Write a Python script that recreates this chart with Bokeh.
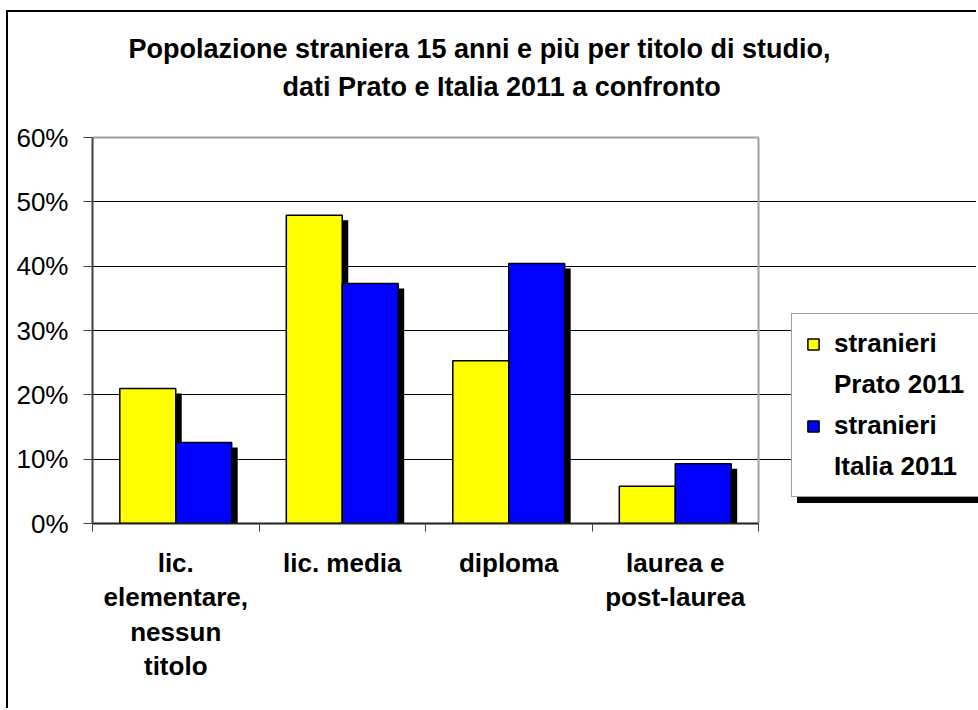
from bokeh.plotting import figure
from bokeh.models import (FixedTicker, PrintfTickFormatter, Legend, LegendItem,
                          Title, Range1d, Grid, LinearAxis)
from bokeh.embed import file_html
from bokeh.resources import INLINE

# ---- data ----
categories = ["lic.\nelementare,\nnessun\ntitolo", "lic. media", "diploma", "laurea e\npost-laurea"]
prato_2011 = [21.0, 47.9, 25.3, 5.8]
italia_2011 = [12.6, 37.3, 40.4, 9.3]
series_names = [["stranieri", "Prato 2011"], ["stranieri", "Italia 2011"]]
y_ticks = [0, 10, 20, 30, 40, 50, 60]
title_lines = ["Popolazione straniera 15 anni e più per titolo di studio,",
               "dati Prato e Italia 2011 a confronto"]

FONT = "Liberation Sans"
n = len(categories)
centers = [i + 0.5 for i in range(n)]
bw = 0.336
x_prato = [c - bw / 2 for c in centers]
x_italia = [c + bw / 2 for c in centers]
sh_dx = 0.036
sh_dy = 0.78

# the frame extends to the right edge (legend area); the plot area itself is x in [0, n]
FRAME_W = 886
PLOT_W = 666
x_end = n * FRAME_W / PLOT_W

p = figure(width=970, height=698, output_backend="svg", toolbar_location=None,
           x_range=Range1d(0, x_end), y_range=Range1d(0, y_ticks[-1]),
           min_border_left=84, min_border_right=0, min_border_top=125,
           min_border_bottom=187, title=None,
           styles={"margin-left": "6px", "margin-top": "10px",
                   "border-left": "2px solid black", "border-top": "2px solid black"})
p.background_fill_color = "white"
p.border_fill_color = "white"
p.outline_line_color = None

# shadows
p.vbar(x=[x + sh_dx for x in x_prato], top=[v - sh_dy for v in prato_2011], width=bw,
       fill_color="black", line_color=None)
p.vbar(x=[x + sh_dx for x in x_italia], top=[v - sh_dy for v in italia_2011], width=bw,
       fill_color="black", line_color=None)
r1 = p.vbar(x=x_prato, top=prato_2011, width=bw, fill_color="#ffff00",
            line_color="black", line_width=1.5)
r2 = p.vbar(x=x_italia, top=italia_2011, width=bw, fill_color="#0000ff",
            line_color="black", line_width=1.5)
r_blank = p.vbar(x=[], top=[], width=bw, fill_alpha=0, line_alpha=0)

# grid lines limited to the plot area
p.xgrid.visible = False
p.ygrid.ticker = FixedTicker(ticks=y_ticks[1:-1])
p.ygrid.grid_line_color = "black"
p.ygrid.grid_line_width = 1
p.ygrid.bounds = (0, n)
# plot-area border on the right, grey
p.add_layout(Grid(dimension=0, ticker=FixedTicker(ticks=[n]), bounds=(0, y_ticks[-1]),
                  grid_line_color="#a0a0a0", grid_line_width=2))

# y axis
p.yaxis.ticker = FixedTicker(ticks=y_ticks)
p.yaxis.formatter = PrintfTickFormatter(format="%d%%")
p.yaxis.major_label_text_font = FONT
p.yaxis.major_label_text_font_size = "26px"
p.yaxis.major_label_text_color = "black"
p.yaxis.major_tick_out = 9
p.yaxis.major_tick_in = 0
p.yaxis.minor_tick_out = 0
p.yaxis.minor_tick_in = 0
p.yaxis.major_label_standoff = 15
p.yaxis.axis_line_color = "#404040"
p.yaxis.axis_line_width = 2
p.yaxis.major_tick_line_color = "#404040"

# x axis
p.xaxis.ticker = FixedTicker(ticks=centers, minor_ticks=list(range(n + 1)))
p.xaxis.bounds = (0, n)
p.xaxis.major_label_overrides = {c: lab for c, lab in zip(centers, categories)}
p.xaxis.major_label_text_font = FONT
p.xaxis.major_label_text_font_size = "26px"
p.xaxis.major_label_text_font_style = "bold"
p.xaxis.major_label_text_color = "black"
p.xaxis.major_label_text_line_height = 1.15
p.xaxis.major_tick_out = 0
p.xaxis.major_tick_in = 0
p.xaxis.minor_tick_out = 8
p.xaxis.minor_tick_in = 0
p.xaxis.minor_tick_line_color = "#404040"
p.xaxis.major_label_standoff = 16
p.xaxis.axis_line_color = "#202020"
p.xaxis.axis_line_width = 2

# grey top border of the plot area: a bare axis line above
top_border = LinearAxis(ticker=FixedTicker(ticks=[]), bounds=(0, n),
                        axis_line_color="#a0a0a0", axis_line_width=2,
                        major_tick_out=0, major_tick_in=0, minor_tick_out=0, minor_tick_in=0,
                        major_label_standoff=0, major_label_text_font_size="0px")
p.add_layout(top_border, "above")

# title (two lines)
t2 = Title(text=title_lines[1], align="left", offset=190, vertical_align="bottom",
           text_font=FONT, text_font_size="27px", text_font_style="bold",
           text_color="black", standoff=72)
t1 = Title(text=title_lines[0], align="left", offset=36, vertical_align="bottom",
           text_font=FONT, text_font_size="27px", text_font_style="bold",
           text_color="black", standoff=-60)
p.add_layout(t2, "above")
p.add_layout(t1, "above")

# legend shadow (box only)
shadow = Legend(items=[LegendItem(label=" ", renderers=[r_blank]) for _ in range(4)],
                location=(705, 20), orientation="vertical",
                background_fill_color="black", background_fill_alpha=1,
                border_line_color="black", border_line_width=1.5,
                label_text_font=FONT, label_text_font_size="26px", label_text_alpha=0,
                label_width=200, glyph_width=14, glyph_height=14, label_standoff=14,
                padding=14, spacing=10, margin=0)
p.add_layout(shadow, "center")

# legend (each two-line entry: a glyph row plus a text-only row)
items = [LegendItem(label=series_names[0][0], renderers=[r1]),
         LegendItem(label=series_names[0][1], renderers=[r_blank]),
         LegendItem(label=series_names[1][0], renderers=[r2]),
         LegendItem(label=series_names[1][1], renderers=[r_blank])]
legend = Legend(items=items, location=(699, 26), orientation="vertical",
                background_fill_color="white", background_fill_alpha=1,
                border_line_color="#404040", border_line_width=1.5,
                label_text_font=FONT, label_text_font_size="26px",
                label_text_font_style="bold", label_text_color="black",
                glyph_width=14, glyph_height=14, label_standoff=14,
                padding=14, spacing=10, margin=0)
p.add_layout(legend, "center")

open("out.html", "w").write(file_html(p, INLINE))
